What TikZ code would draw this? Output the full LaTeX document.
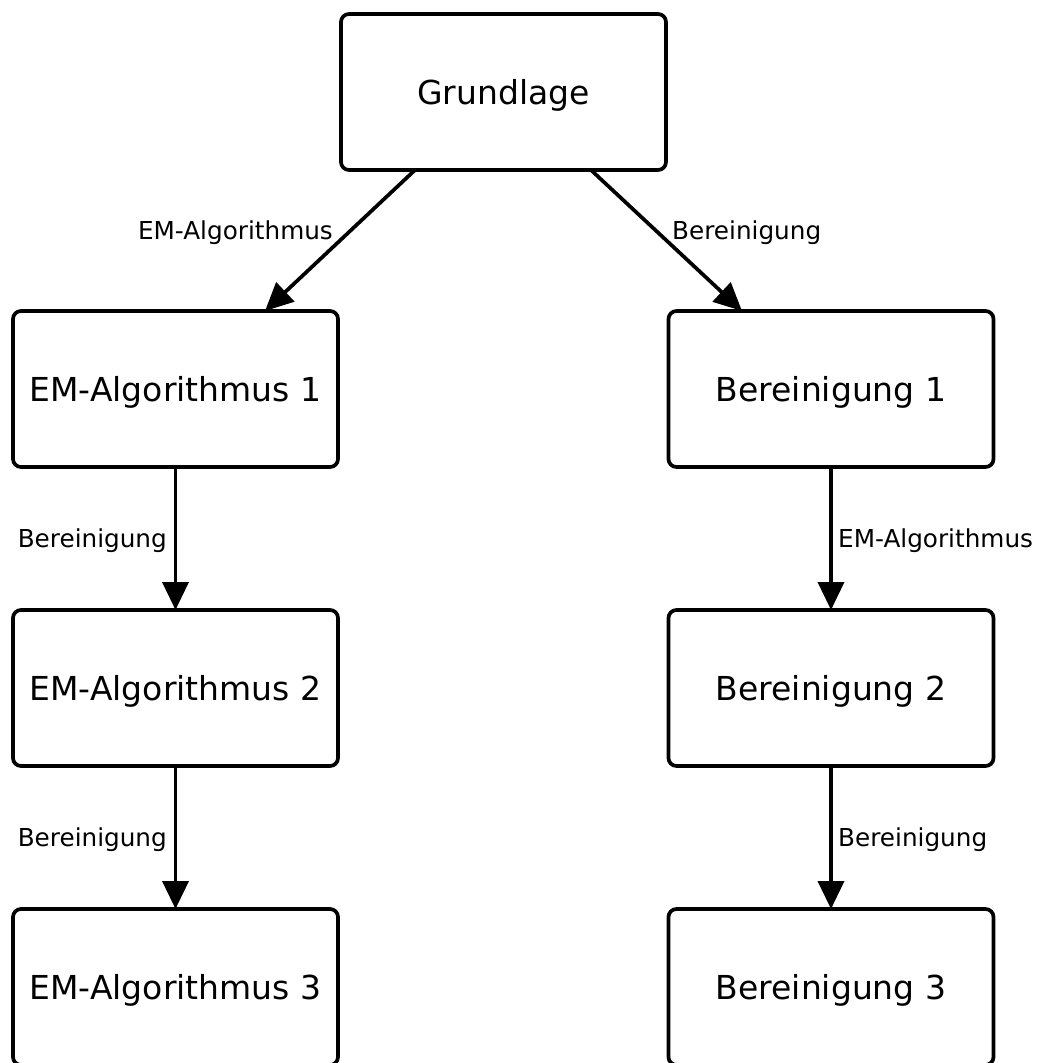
\documentclass[tikz,border=0pt]{standalone}
\usepackage{fontspec}
\setmainfont{DejaVu Sans}
\usetikzlibrary{arrows.meta,calc}
\begin{document}
\begin{tikzpicture}[x=1pt,y=-1pt,
  box/.style={draw,line width=3.7pt,rounded corners=8pt,minimum width=325pt,minimum height=156pt,inner sep=0pt,outer sep=0pt,text depth=0pt,font=\fontsize{33}{40}\selectfont},
  conn/.style={line width=3.7pt,-{Triangle[width=26pt,length=28pt]}},
  lbl/.style={font=\fontsize{24.7}{30}\selectfont,inner sep=0pt,text depth=0pt}]
\useasboundingbox (0,0) rectangle (1039,1063);
\clip (0,0) rectangle (1039,1063);
\node[box] (g) at (503.5,92) {Grundlage};
\node[box] (e1) at (175.5,389) {EM-Algorithmus 1};
\node[box] (e2) at (175.5,688) {EM-Algorithmus 2};
\node[box] (e3) at (175.5,987) {EM-Algorithmus 3};
\node[box] (b1) at (831,389) {Bereinigung 1};
\node[box] (b2) at (831,688) {Bereinigung 2};
\node[box] (b3) at (831,987) {Bereinigung 3};
\draw[conn] ($(g.south)+(-88.5,0)$) -- ($(e1.north)+(89.5,0)$);
\draw[conn] ($(g.south)+(87.5,0)$) -- ($(b1.north)+(-89,0)$);
\draw[conn] (e1) -- (e2);
\draw[conn] (e2) -- (e3);
\draw[conn] (b1) -- (b2);
\draw[conn] (b2) -- (b3);
\node[lbl,anchor=east] (l1) at (333,230) {EM-Algorithmus};
\node[lbl,anchor=west] (l2) at (672,230) {Bereinigung};
\node[lbl,anchor=east] (l3) at (167,538) {Bereinigung};
\node[lbl,anchor=east] (l4) at (167,837) {Bereinigung};
\node[lbl,anchor=west] (l5) at (838,538) {EM-Algorithmus};
\node[lbl,anchor=west] (l6) at (838,837) {Bereinigung};
\end{tikzpicture}
\end{document}
